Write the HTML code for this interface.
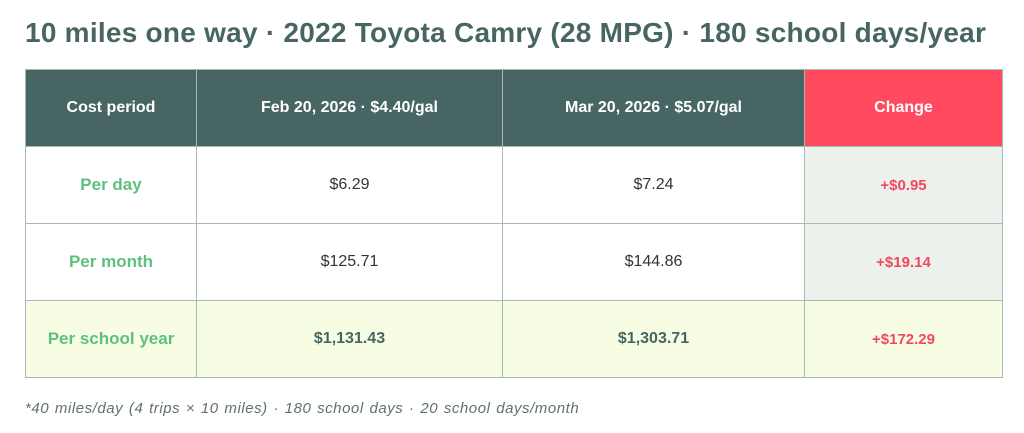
<!DOCTYPE html>
<html><head><meta charset="utf-8"><style>
body{margin:0;width:1024px;height:433px;background:#fff;font-family:"Liberation Sans",sans-serif;overflow:hidden;position:relative}
h1{position:absolute;left:25px;top:17px;margin:0;font-size:28px;font-weight:bold;color:#476663;white-space:nowrap;letter-spacing:0.25px}
table{position:absolute;left:25px;top:69px;border-collapse:collapse;table-layout:fixed;width:977px}
td,th{border:1px solid #a9bab6;text-align:center;height:76px;padding:0;font-size:16px;color:#2e3636}
th{background:#476663;color:#fff;font-weight:bold;font-size:16px}
th.ch{background:#ff4a5f}
td.l{color:#5ec07d;font-weight:bold;font-size:17px}
td.c{background:#edf1ec;color:#f04860;font-weight:bold;font-size:15px}
tr.y td{background:#f6fde3}
tr.y td.v{font-weight:bold;color:#476663}
.f{position:absolute;left:25px;top:400px;font-size:15px;font-style:italic;color:#5f7270;white-space:nowrap;letter-spacing:0.55px;word-spacing:1px}
</style></head><body>
<h1>10 miles one way · 2022 Toyota Camry (28 MPG) · 180 school days/year</h1>
<table>
<colgroup><col style="width:171px"><col style="width:306px"><col style="width:302px"><col style="width:198px"></colgroup>
<tr><th>Cost period</th><th>Feb 20, 2026 · $4.40/gal</th><th>Mar 20, 2026 · $5.07/gal</th><th class="ch">Change</th></tr>
<tr><td class="l">Per day</td><td>$6.29</td><td>$7.24</td><td class="c">+$0.95</td></tr>
<tr><td class="l">Per month</td><td>$125.71</td><td>$144.86</td><td class="c">+$19.14</td></tr>
<tr class="y"><td class="l">Per school year</td><td class="v">$1,131.43</td><td class="v">$1,303.71</td><td class="c">+$172.29</td></tr>
</table>
<div class="f">*40 miles/day (4 trips × 10 miles) · 180 school days · 20 school days/month</div>
</body></html>
